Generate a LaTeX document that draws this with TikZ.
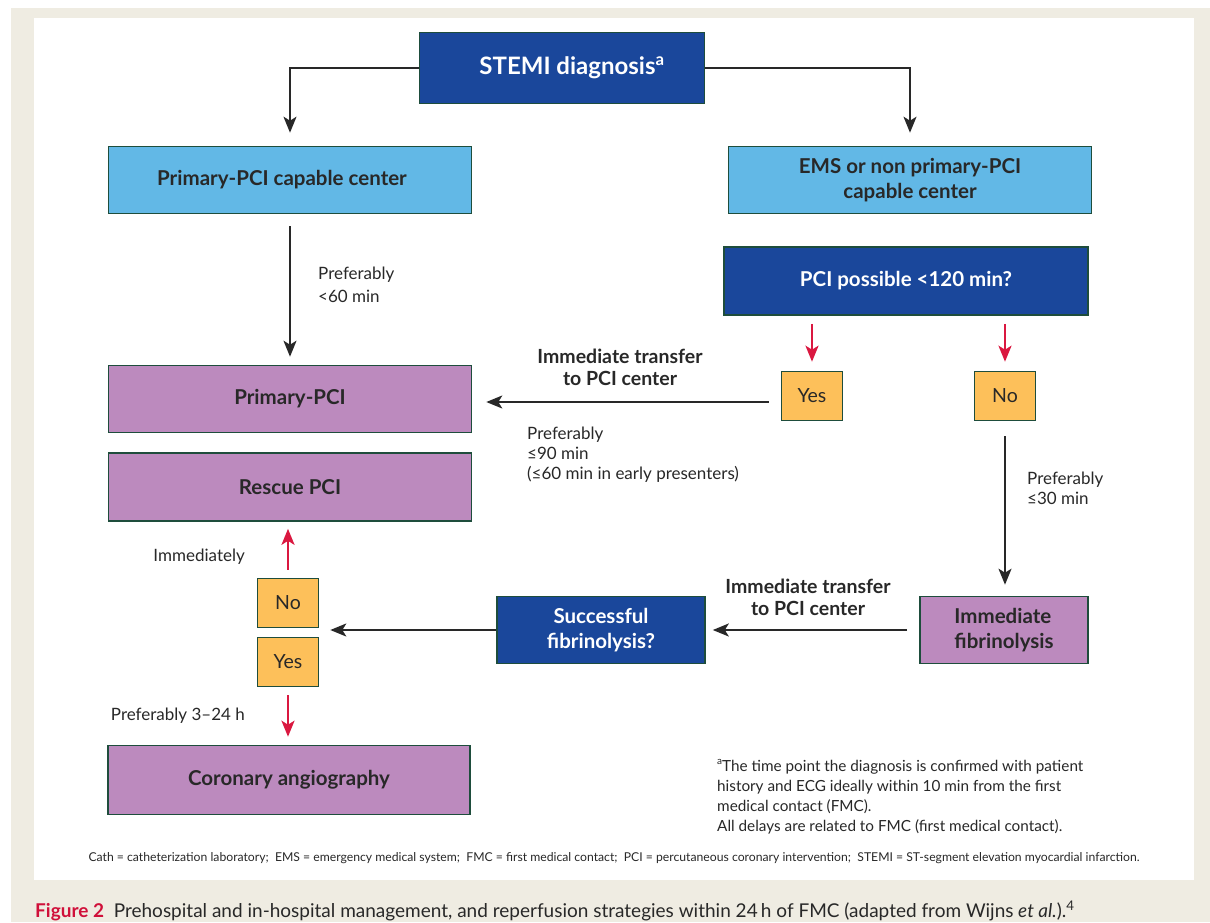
\documentclass[tikz,border=0pt]{standalone}
\usepackage{fontspec}
\setmainfont{Lato}
\usetikzlibrary{arrows.meta}
\definecolor{darkblue}{RGB}{26,71,155}
\definecolor{lightblue}{RGB}{98,184,230}
\definecolor{mauve}{RGB}{188,138,190}
\definecolor{amber}{RGB}{253,192,90}
\definecolor{boxline}{RGB}{30,77,60}
\definecolor{arrowred}{RGB}{218,24,64}
\definecolor{paper}{RGB}{239,236,226}
\definecolor{textgray}{RGB}{40,40,40}
\definecolor{capred}{RGB}{208,16,58}
\newcommand{\notemark}[1]{\raisebox{0.45em}{\fontsize{10}{10}\selectfont #1}}
\tikzset{box/.style={draw=boxline, line width=1.6pt, align=center, inner sep=0pt,
         font=\bfseries\fontsize{20.5}{25}\selectfont, text=textgray},
         bluebox/.style={box, fill=darkblue, text=white},
         skybox/.style={box, fill=lightblue},
         mauvebox/.style={box, fill=mauve},
         answer/.style={box, fill=amber, font=\fontsize{19.5}{22}\selectfont,
         minimum width=61pt, minimum height=49pt},
         note/.style={text=textgray, align=left, inner sep=0pt,
         font=\fontsize{17}{20}\selectfont},
         boldnote/.style={note, align=center, font=\bfseries\fontsize{19.5}{22}\selectfont},
         flow/.style={textgray, line width=2pt, -{Stealth[length=16pt,width=13pt,inset=4pt]}},
         redflow/.style={arrowred, line width=2.4pt, -{Stealth[length=16pt,width=13pt,inset=4pt]}}}

\begin{document}
\begin{tikzpicture}[x=1pt,y=-1pt]
\useasboundingbox (0,0) rectangle (1210,922);
\fill [paper] (11,8) rectangle (1210,922);
\fill [white] (34,18) rectangle (1194,880);

% boxes
\node [bluebox, minimum width=285pt, minimum height=71pt, font=\bfseries\fontsize{24}{28}\selectfont] (stemi) at (562,68) {\hspace*{20pt}STEMI diagnosis\textsuperscript{a}};
\node [skybox, minimum width=363pt, minimum height=67pt] (capable) at (290,180) {Primary-PCI capable center\hspace*{16pt}};
\node [skybox, minimum width=363pt, minimum height=67pt] (ems) at (910,180) {EMS or non primary-PCI\\capable center};
\node [bluebox, minimum width=364pt, minimum height=68pt] (possible) at (906,281) {PCI possible <120 min?};
\node [answer] (yes1) at (812,396) {Yes};
\node [answer] (no1) at (1005,396) {No};
\node [mauvebox, minimum width=363pt, minimum height=67pt] (ppci) at (290,399) {Primary-PCI};
\node [mauvebox, minimum width=363pt, minimum height=68pt] (rescue) at (290,487) {Rescue PCI};
\node [answer] (no2) at (288,603) {No};
\node [answer] (yes2) at (288,662) {Yes};
\node [mauvebox, minimum width=362pt, minimum height=69pt] (angio) at (289,780) {Coronary angiography};
\node [bluebox, minimum width=208pt, minimum height=67pt] (succ) at (601,630) {Successful\\fibrinolysis?};
\node [mauvebox, minimum width=168pt, minimum height=67pt, align=left] (immfib) at (1004,630) {Immediate\\fibrinolysis};

% connectors
\draw [flow] (stemi.west) -| ([yshift=13pt]capable.north);
\draw [flow] (stemi.east) -| ([yshift=13pt]ems.north);
\draw [flow, shorten <=12pt, shorten >=8pt] (capable) -- (ppci);
\draw [redflow, shorten <=8pt, shorten >=9pt] (possible.south -| yes1.north) -- (yes1.north);
\draw [redflow, shorten <=8pt, shorten >=9pt] (possible.south -| no1.north) -- (no1.north);
\draw [flow, shorten <=12pt, shorten >=14pt] ([yshift=-6pt]yes1.west) -- ([yshift=-6pt]yes1.west -| ppci.east);
\draw [flow, shorten <=15pt, shorten >=11pt] (no1.south) -- (no1.south |- immfib.north);
\draw [flow, shorten <=12pt, shorten >=7pt] (immfib) -- (succ);
\draw [flow, shorten >=11pt] (succ.west) -- (succ.west -| no2.east);
\draw [redflow, shorten <=8pt, shorten >=7pt] (no2.north) -- (no2.north |- rescue.south);
\draw [redflow, shorten <=8pt, shorten >=8pt] (yes2.south) -- (yes2.south |- angio.north);

% labels
\node [note, anchor=west, font=\fontsize{17}{23}\selectfont] (l60) at (318,285) {Preferably\\<60 min};
\node [boldnote] (tr1) at (620,367) {Immediate transfer\\to PCI center};
\node [note, anchor=north west] (l90) at (527,427) {Preferably\\≤90 min\\(≤60 min in early presenters)};
\node [note, anchor=west] (l30) at (1027,488) {Preferably\\≤30 min};
\node [boldnote] (tr2) at (808,597) {Immediate transfer\\to PCI center};
\node [note, anchor=east] (now) at (245,557) {Immediately};
\node [note, anchor=east] (l324) at (245,716) {Preferably 3–24 h};

\node [note, anchor=north west, font=\fontsize{15.3}{20}\selectfont] (fn) at (717,759) {\notemark{a}The time point the diagnosis is confirmed with patient\\history and ECG ideally within 10 min from the first\\medical contact (FMC).\\All delays are related to FMC (first medical contact).};
\node [note, font=\fontsize{12.2}{14}\selectfont] (abbr) at (614,858) {Cath = catheterization laboratory;\ \ EMS = emergency medical system;\ \ FMC = first medical contact;\ \ PCI = percutaneous coronary intervention;\ \ STEMI = ST-segment elevation myocardial infarction.};
\node [note, anchor=base west, font=\fontsize{19}{22}\selectfont] (cap) at (35,917) {\textcolor{capred}{\bfseries Figure 2}\ \ Prehospital and in-hospital management, and reperfusion strategies within 24\,h of FMC (adapted from Wijns \textit{et al.}).\textsuperscript{4}};
\end{tikzpicture}
\end{document}
